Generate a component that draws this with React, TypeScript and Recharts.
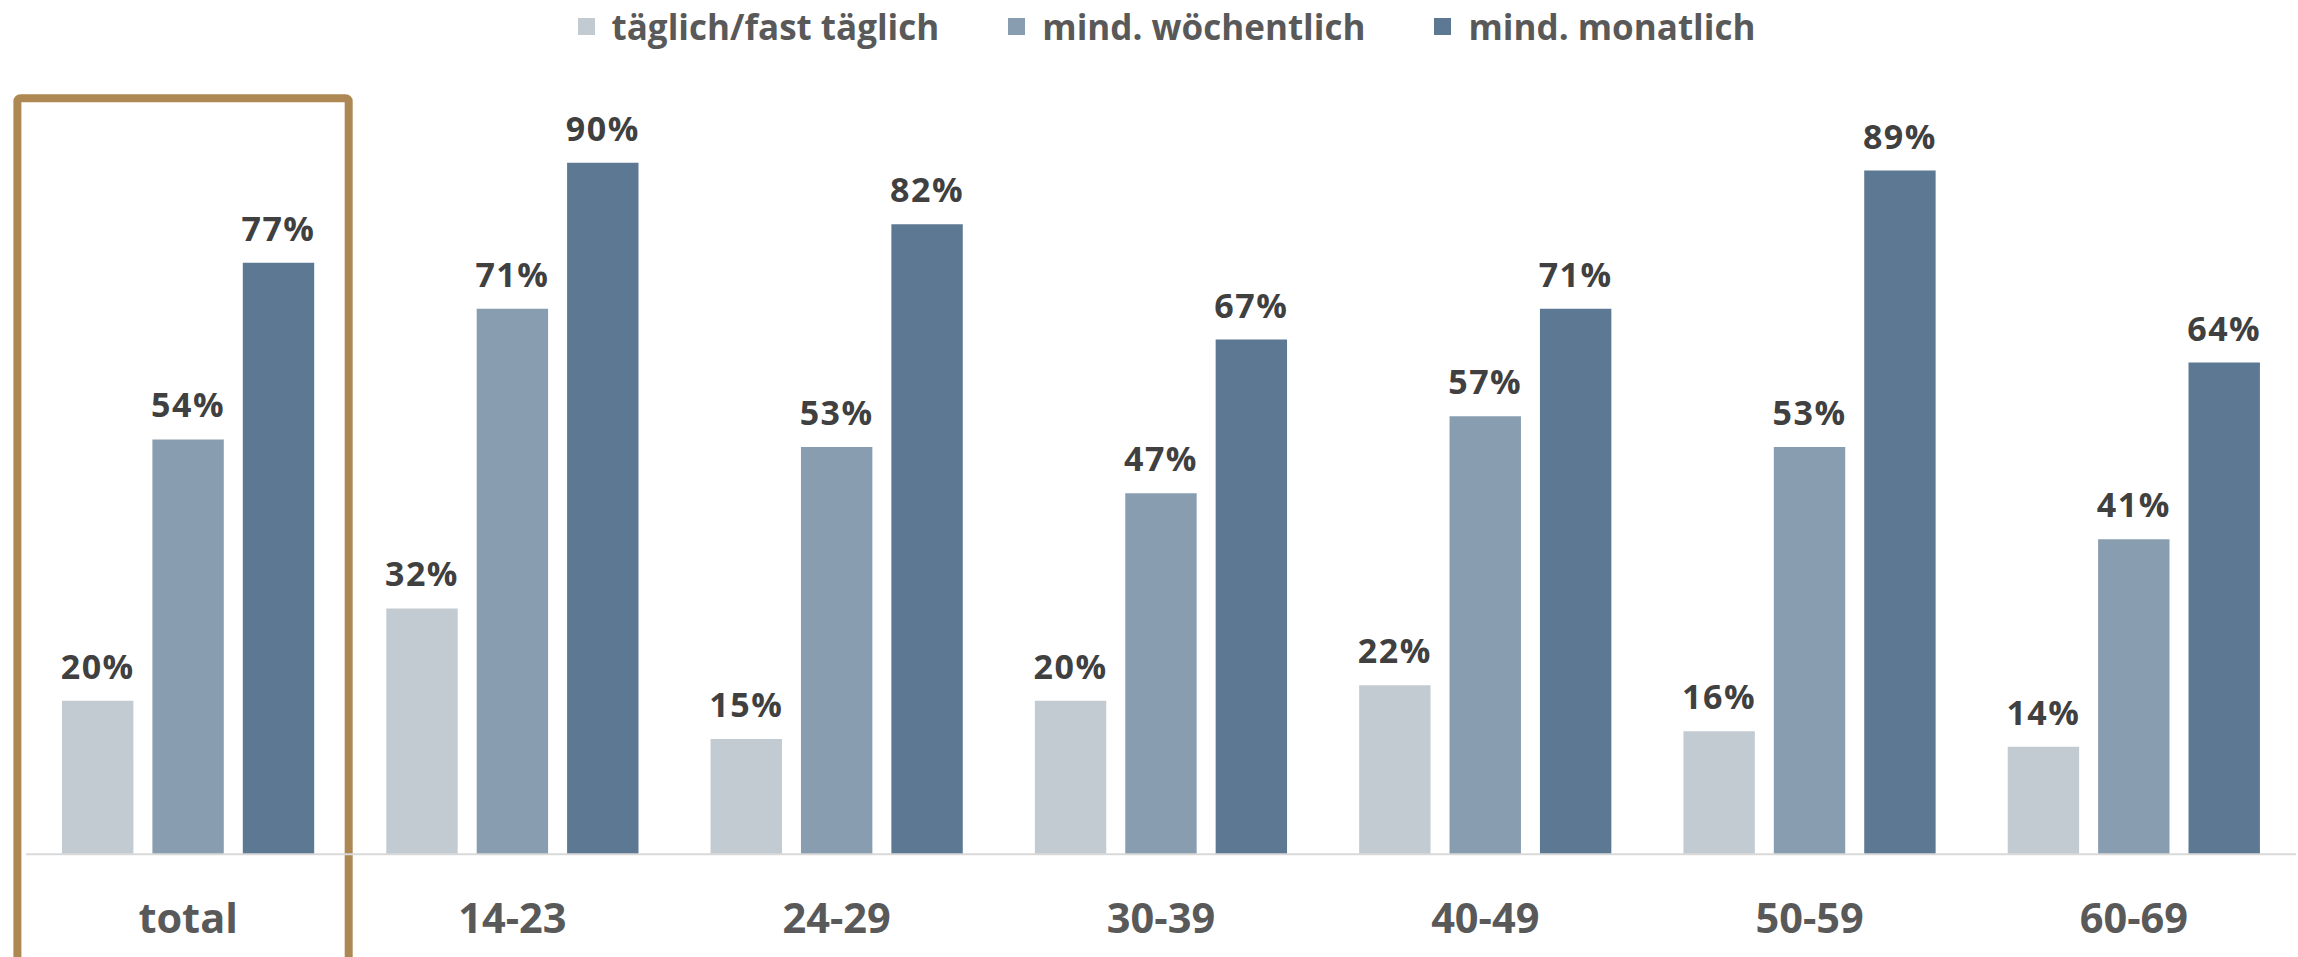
import React from "react";
import { BarChart, Bar, XAxis, YAxis, LabelList, Legend, ReferenceArea } from "recharts";

const categories = ["total", "14-23", "24-29", "30-39", "40-49", "50-59", "60-69"];
const daily = [20, 32, 15, 20, 22, 16, 14];
const weekly = [54, 71, 53, 47, 57, 53, 41];
const monthly = [77, 90, 82, 67, 71, 89, 64];
const seriesNames = ["täglich/fast täglich", "mind. wöchentlich", "mind. monatlich"];
const seriesKeys = ["daily", "weekly", "monthly"];
const colors = ["#C3CBD2", "#889DB0", "#5C7893"];

const data = categories.map((c, i) => ({
  name: c,
  daily: daily[i],
  weekly: weekly[i],
  monthly: monthly[i],
}));

const FONT = "'Open Sans', 'Noto Sans', sans-serif";

const renderLegend = () => (
  <div
    style={{
      display: "flex",
      justifyContent: "center",
      alignItems: "center",
      height: 52,
      fontFamily: FONT,
      fontWeight: 700,
      fontSize: 35,
      color: "#595959",
      paddingLeft: 35,
    }}
  >
    {seriesNames.map((n, i) => (
      <div key={n} style={{ display: "flex", alignItems: "center", marginLeft: i === 0 ? 0 : 69 }}>
        <div style={{ width: 17, height: 17, background: colors[i], marginRight: 17 }} />
        <span style={{ whiteSpace: "nowrap" }}>{n}</span>
      </div>
    ))}
  </div>
);

const AxisTick = (props: any) => {
  const { x, y, payload } = props;
  return (
    <text
      x={x}
      y={y + 79}
      textAnchor="middle"
      fontFamily={FONT}
      fontWeight={700}
      fontSize={41.5}
      fill="#595959"
    >
      {payload.value}
    </text>
  );
};

const BoxShape = (props: any) => {
  const { x, y, width, height } = props;
  return (
    <rect
      x={x - 8.6}
      y={y}
      width={width + 7}
      height={height}
      rx={3}
      ry={3}
      fill="none"
      stroke="#AD8853"
      strokeWidth={8}
    />
  );
};

export default function App() {
  return (
    <div style={{ position: "absolute", left: 0, top: 0, width: 2298, height: 957, background: "#fff" }}>
      <BarChart
        width={2298}
        height={957}
        data={data}
        margin={{ top: 34, right: 2, bottom: 0, left: 26 }}
        barSize={71.4}
        barGap={19}
      >
        <Legend
          verticalAlign="top"
          align="center"
          content={renderLegend}
          wrapperStyle={{ top: 0, left: 0, width: 2298, height: 52 }}
        />
        <XAxis
          dataKey="name"
          height={102.7}
          tickLine={false}
          tickSize={0}
          tickMargin={0}
          axisLine={{ stroke: "#D9D9D9", strokeWidth: 2 }}
          tick={<AxisTick />}
          interval={0}
        />
        <YAxis hide domain={[0, 100]} />
        <ReferenceArea
          x1="total"
          x2="total"
          y1={-20}
          y2={98.4}
          ifOverflow="visible"
          shape={<BoxShape />}
        />
        {seriesKeys.map((k, i) => (
          <Bar key={k} dataKey={k} name={seriesNames[i]} fill={colors[i]} isAnimationActive={false}>
            <LabelList
              dataKey={k}
              position="top"
              offset={22}
              formatter={(v: any) => `${v}%`}
              fill="#404040"
              fontFamily={FONT}
              fontWeight={700}
              fontSize={34}
              letterSpacing={1.5}
            />
          </Bar>
        ))}
      </BarChart>
    </div>
  );
}
